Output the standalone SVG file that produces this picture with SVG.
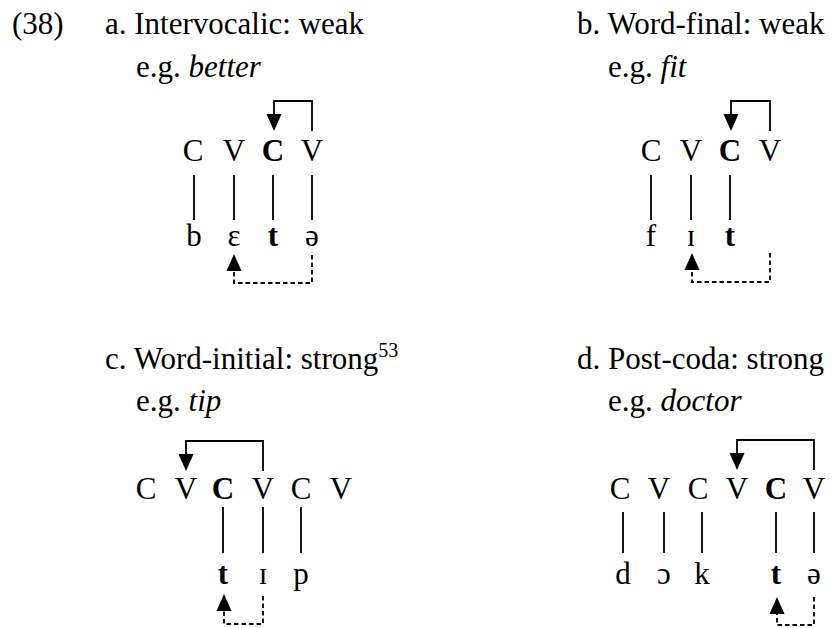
<svg xmlns="http://www.w3.org/2000/svg" width="837" height="628" viewBox="0 0 837 628">
<style>
text{font-family:"Liberation Serif","Times New Roman","DejaVu Serif",serif;font-size:31px;fill:#000}
.m{text-anchor:middle}
.b{font-weight:bold}
.i{font-style:italic}
.ln{stroke:#000;stroke-width:1.8;fill:none}
.ds{stroke:#000;stroke-width:1.8;fill:none;stroke-dasharray:4.5 3}
.ah{fill:#000}
</style>
<rect width="837" height="628" fill="#fff"/>
<g id="headings">
<text x="12" y="34">(38)</text>
</g>
<g id="panel-a">
<text x="105" y="34">a. Intervocalic: weak</text>
<text x="136" y="77">e.g. <tspan class="i">better</tspan></text>
<g id="a-skeleton">
<text class="m" x="193" y="161">C</text>
<text class="m" x="234" y="161">V</text>
<text class="m b" x="273" y="161">C</text>
<text class="m" x="312" y="161">V</text>
</g>
<g id="a-segments">
<text class="m" x="194" y="246">b</text>
<text class="m" x="234" y="246">ɛ</text>
<text class="m b" x="273" y="246">t</text>
<text class="m" x="312" y="246">ə</text>
</g>
</g>
<g id="panel-b">
<text x="577" y="34">b. Word-final: weak</text>
<text x="608" y="77">e.g. <tspan class="i">fit</tspan></text>
<g id="b-skeleton">
<text class="m" x="651" y="161">C</text>
<text class="m" x="691" y="161">V</text>
<text class="m b" x="730" y="161">C</text>
<text class="m" x="770" y="161">V</text>
</g>
<g id="b-segments">
<text class="m" x="651" y="246">f</text>
<text class="m" x="691" y="246">ɪ</text>
<text class="m b" x="730" y="246">t</text>
</g>
</g>
<g id="panel-c">
<text x="105" y="369">c. Word-initial: strong<tspan font-size="20" dy="-12">53</tspan></text>
<text x="136" y="411">e.g. <tspan class="i">tip</tspan></text>
<g id="c-skeleton">
<text class="m" x="146" y="499">C</text>
<text class="m" x="186" y="499">V</text>
<text class="m b" x="223" y="499">C</text>
<text class="m" x="263" y="499">V</text>
<text class="m" x="301" y="499">C</text>
<text class="m" x="341" y="499">V</text>
</g>
<g id="c-segments">
<text class="m b" x="223" y="584">t</text>
<text class="m" x="263" y="584">ɪ</text>
<text class="m" x="301" y="584">p</text>
</g>
</g>
<g id="panel-d">
<text x="577" y="369">d. Post-coda: strong</text>
<text x="608" y="411">e.g. <tspan class="i">doctor</tspan></text>
<g id="d-skeleton">
<text class="m" x="620" y="499">C</text>
<text class="m" x="659" y="499">V</text>
<text class="m" x="698" y="499">C</text>
<text class="m" x="737" y="499">V</text>
<text class="m b" x="776" y="499">C</text>
<text class="m" x="814" y="499">V</text>
</g>
<g id="d-segments">
<text class="m" x="623" y="584">d</text>
<text class="m" x="664" y="584">ɔ</text>
<text class="m" x="702" y="584">k</text>
<text class="m b" x="776" y="584">t</text>
<text class="m" x="814" y="584">ə</text>
</g>
</g>
<g id="connectors">
<path class="ln" d="M194 175V220M234 175V220M273 175V220M312 175V220"/>
<path class="ln" d="M651 175V220M691 175V220M730 175V220"/>
<path class="ln" d="M223 507V553M263 507V553M301 507V553"/>
<path class="ln" d="M623 512V553M664 512V553M702 512V553M776 512V553M814 512V553"/>
<path class="ln" d="M312 131V101H274V116"/>
<polygon class="ah" points="266.5,114 281.5,114 274,131"/>
<path class="ln" d="M770 131V101H731V116"/>
<polygon class="ah" points="723.5,114 738.5,114 731,131"/>
<path class="ln" d="M263 471V441H186V456"/>
<polygon class="ah" points="178.5,454 193.5,454 186,471"/>
<path class="ln" d="M814 470V440H737V455"/>
<polygon class="ah" points="729.5,453 744.5,453 737,470"/>
<path class="ds" d="M312 255V283H234V270"/>
<polygon class="ah" points="226.5,271 241.5,271 234,254"/>
<path class="ds" d="M770 253V282H692V269"/>
<polygon class="ah" points="684.5,270 699.5,270 692,253"/>
<path class="ds" d="M263 596V624H224V611"/>
<polygon class="ah" points="216.5,611 231.5,611 224,594"/>
<path class="ds" d="M814 597V625H777V614"/>
<polygon class="ah" points="769.5,614 784.5,614 777,597"/>
</g>
</svg>
